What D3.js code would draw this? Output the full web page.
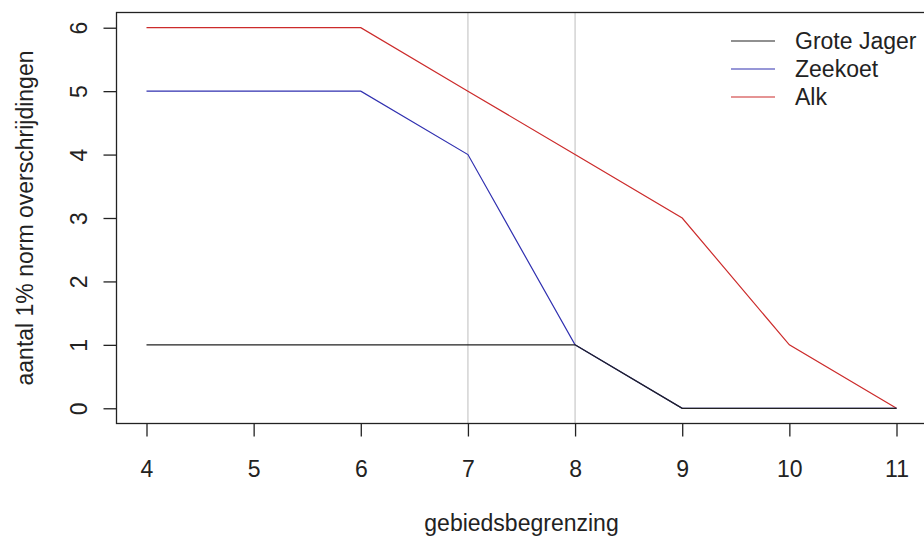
<!DOCTYPE html>
<html>
<head>
<meta charset="utf-8">
<script src="https://cdn.jsdelivr.net/npm/d3@7"></script>
<style>
  html, body { margin: 0; padding: 0; background: #fff; }
  svg { display: block; }
  text { font-family: "Liberation Sans", Arial, sans-serif; fill: #222; }
</style>
</head>
<body>
<script>
const xValues = [4, 5, 6, 7, 8, 9, 10, 11];
const groteJager = [1, 1, 1, 1, 1, 0, 0, 0];
const zeekoet = [5, 5, 5, 4, 1, 0, 0, 0];
const alk = [6, 6, 6, 5, 4, 3, 1, 0];
const seriesNames = ["Grote Jager", "Zeekoet", "Alk"];
const seriesColors = ["#222222", "#3030b0", "#cc2b2b"];
const xTicks = [4, 5, 6, 7, 8, 9, 10, 11];
const yTicks = [0, 1, 2, 3, 4, 5, 6];
const refLines = [7, 8];
const xLabel = "gebiedsbegrenzing";
const yLabel = "aantal 1% norm overschrijdingen";

const W = 924, H = 540;
const fs = 23;
const svg = d3.select("body").append("svg").attr("width", W).attr("height", H);

// R-style 4% extension
const x = d3.scaleLinear().domain([3.72, 11.28]).range([116.5, 926.5]);
const y = d3.scaleLinear().domain([-0.24, 6.24]).range([423.5, 12.5]);

// reference lines
svg.selectAll("line.ref").data(refLines).enter().append("line")
  .attr("x1", d => x(d)).attr("x2", d => x(d))
  .attr("y1", y(-0.24)).attr("y2", y(6.24))
  .attr("stroke", "#c8c8c8").attr("stroke-width", 1.2);

const series = [groteJager, zeekoet, alk];
const line = d3.line().x((d, i) => x(xValues[i])).y(d => y(d));
// draw order: Alk, Zeekoet, Grote Jager on top
[2, 1, 0].forEach(k => {
  svg.append("path").datum(series[k]).attr("d", line)
    .attr("fill", "none").attr("stroke", seriesColors[k]).attr("stroke-width", 1.2);
});

// box (right edge off-canvas)
svg.append("rect")
  .attr("x", x(3.72)).attr("y", y(6.24))
  .attr("width", x(11.28) - x(3.72)).attr("height", y(-0.24) - y(6.24))
  .attr("fill", "none").attr("stroke", "#222").attr("stroke-width", 1.3);

// x axis
const xAxis = svg.append("g").attr("transform", `translate(0,${y(-0.24)})`)
  .call(d3.axisBottom(x).tickValues(xTicks).tickSize(13).tickPadding(24).tickFormat(d3.format("d")));
xAxis.select(".domain").remove();
xAxis.selectAll("line").attr("stroke", "#222").attr("stroke-width", 1.3);
xAxis.selectAll("text").attr("font-size", fs).attr("font-family", "Liberation Sans, Arial, sans-serif").attr("fill", "#222");

// y axis
const yAxis = svg.append("g").attr("transform", `translate(${x(3.72)},0)`)
  .call(d3.axisLeft(y).tickValues(yTicks).tickSize(13).tickFormat(d3.format("d")));
yAxis.select(".domain").remove();
yAxis.selectAll("line").attr("stroke", "#222").attr("stroke-width", 1.3);
yAxis.selectAll("text").remove();
yAxis.selectAll("g.tick").append("text")
  .attr("transform", "translate(-30,0) rotate(-90)")
  .attr("text-anchor", "middle")
  .attr("dy", "0em")
  .attr("font-size", fs).attr("fill", "#222")
  .text(d => d);

// axis titles
svg.append("text").attr("x", (x(3.72) + x(11.28)) / 2).attr("y", 531)
  .attr("text-anchor", "middle").attr("font-size", fs).text(xLabel);
svg.append("text").attr("transform", `translate(33,${(y(-0.24) + y(6.24)) / 2}) rotate(-90)`)
  .attr("text-anchor", "middle").attr("font-size", fs).text(yLabel);

// legend
const lg = svg.append("g");
seriesNames.forEach((n, i) => {
  const ly = 41 + i * 28;
  lg.append("line").attr("x1", 731).attr("x2", 775).attr("y1", ly).attr("y2", ly)
    .attr("stroke", seriesColors[i]).attr("stroke-width", 1.2);
  lg.append("text").attr("x", 795).attr("y", ly).attr("dy", "0.36em")
    .attr("font-size", fs).text(n);
});
</script>
</body>
</html>
